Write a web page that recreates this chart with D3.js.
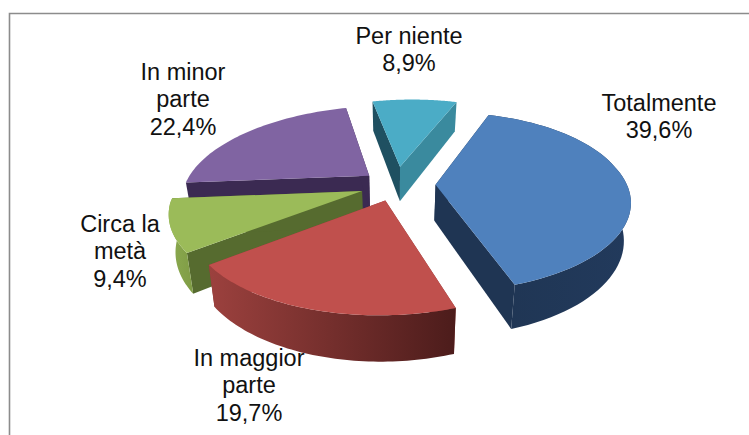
<!DOCTYPE html>
<html><head><meta charset="utf-8">
<script src="https://cdn.jsdelivr.net/npm/d3@7"></script>
<style>html,body{margin:0;background:#fff}svg{display:block}text{font-family:"Liberation Sans",Arial,sans-serif;fill:#111}</style>
</head><body><svg id="c" width="749" height="435"></svg>
<script>
const categories = ["Totalmente","In maggior parte","Circa la metà","In minor parte","Per niente"];
const values = [39.6,19.7,9.4,22.4,8.9];
const labelLines = [["Totalmente"],["In maggior","parte"],["Circa la","metà"],["In minor","parte"],["Per niente"]];
const explode = [0.21,0.18,0.19,0.19,0.22];
const topColors = ["#4f81bd","#c0504d","#9bbb59","#8064a2","#4bacc6"];
const startWallColors = ["#1f3553","#8e3a38","#566b2f","#3b2a52","#1f5061"];
const endWallColors = ["#1f3553","#8e3a38","#566b2f","#3b2a52","#3a8a9e"];
const rimFrom = ["#1f3553","#9c413e","#8cab50",null,null];
const rimTo = ["#223a5c","#4c1c1b","#7f9c45",null,null];
const drawOrder = [3,4,0,2,1];
const labelX = [659,249,120,183,409];
const labelBase = [111,366,232,80,44];

const cx=396, cy=185, rx=186, ry=85, persp=0.19, perspX=0.02, depth=36, shearFront=-27, shearBack=-20, tiltY=-15, shrink=0.03, a0=28*Math.PI/180;
const svg=d3.select("#c");
svg.append("path").attr("d",d3.line()([[749,13.5],[9.5,13.5],[9.5,435]])).attr("fill","none").attr("stroke","#8c8c8c").attr("stroke-width",1.6);

const xs=d3.scaleLinear().domain([0,1]).range([0,rx]);
const ys=d3.scaleLinear().domain([0,1]).range([0,-ry]);
function proj(X,Y,z){
  const w=1+persp*Y+perspX*X;
  const v=Y/w;
  const x=xs(X/w)+(v<0?shearFront:shearBack)*v;
  const y=ys(v)+tiltY*(X/w)+z*depth/w;
  return [cx+x*(1-shrink*z), cy+y];
}

const arcs=d3.pie().sort(null).startAngle(a0).endAngle(a0+2*Math.PI)(values);
const line=d3.line();
const defs=svg.append("defs");
const fmt=v=>d3.format(".1f")(v).replace(".",",")+"%";

drawOrder.forEach(i=>{
  const a=arcs[i], mid=(a.startAngle+a.endAngle)/2;
  const X0=explode[i]*Math.sin(mid), Y0=explode[i]*Math.cos(mid);
  const pt=(t,z)=>proj(X0+Math.sin(t),Y0+Math.cos(t),z);
  const apex=z=>proj(X0,Y0,z);
  const ts=d3.range(0,61).map(k=>a.startAngle+(a.endAngle-a.startAngle)*k/60);
  const g=svg.append("g");
  g.append("path").attr("d",line([apex(0),pt(a.startAngle,0),pt(a.startAngle,1),apex(1)])+"Z").attr("fill",startWallColors[i]);
  g.append("path").attr("d",line([apex(0),pt(a.endAngle,0),pt(a.endAngle,1),apex(1)])+"Z").attr("fill",endWallColors[i]);
  if(rimFrom[i]){
    const id="rim"+i;
    const lg=defs.append("linearGradient").attr("id",id).attr("x1",i===1?1:0).attr("x2",i===1?0:1).attr("y1",0).attr("y2",0);
    lg.append("stop").attr("offset",0).attr("stop-color",i===1?rimTo[i]:rimFrom[i]);
    lg.append("stop").attr("offset",1).attr("stop-color",i===1?rimFrom[i]:rimTo[i]);
    g.append("path").attr("d",line(ts.map(t=>pt(t,0)).concat(ts.slice().reverse().map(t=>pt(t,1))))+"Z").attr("fill",`url(#${id})`);
  }
  g.append("path").attr("d",line([apex(0)].concat(ts.map(t=>pt(t,0))))+"Z").attr("fill",topColors[i]);
});

categories.forEach((c,i)=>{
  const lines=labelLines[i].concat([fmt(values[i])]);
  const t=svg.append("text").attr("text-anchor","middle").attr("font-size",23.5);
  lines.forEach((l,k)=>t.append("tspan").attr("x",labelX[i]).attr("y",labelBase[i]+k*27.3).text(l));
});
</script></body></html>
